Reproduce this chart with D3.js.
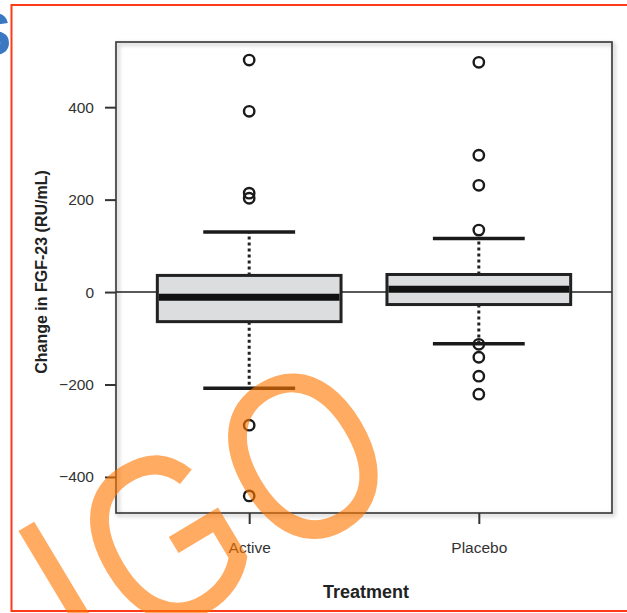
<!DOCTYPE html>
<html>
<head>
<meta charset="utf-8">
<script src="https://cdn.jsdelivr.net/npm/d3@7"></script>
<style>
  html, body { margin: 0; padding: 0; background: #fff; }
  svg { display: block; font-family: "Liberation Sans", Arial, Helvetica, sans-serif; }
</style>
</head>
<body>
<svg id="chart" width="627" height="613"></svg>
<script>
// box statistics per treatment (RU/mL)
const groups = ["Active", "Placebo"];
const whiskerLo = [-208, -112];
const q1 = [-64, -27];
const median = [-11, 6];
const q3 = [36, 38];
const whiskerHi = [130, 116];
const outliers = [
  [502, 391, 214, 203, -288, -441],
  [497, 296, 231, 134, -113, -141, -182, -221]
];
const yTicks = [-400, -200, 0, 200, 400];

const frame = { left: 116, right: 612, top: 42, bottom: 513 };

const svg = d3.select("#chart");

const x = d3.scaleLinear()
  .domain([0.42, 2.58])
  .range([frame.left, frame.right]);

const y = d3.scaleLinear()
  .domain([-478, 541])
  .range([frame.bottom, frame.top]);

// soft shadow on the plot frame
const defs = svg.append("defs");
const f = defs.append("filter").attr("id", "shadow")
  .attr("x", "-5%").attr("y", "-5%").attr("width", "110%").attr("height", "110%");
f.append("feDropShadow")
  .attr("dx", 2).attr("dy", 2).attr("stdDeviation", 2)
  .attr("flood-color", "#000").attr("flood-opacity", 0.35);

// slide residue: blue title letter cut by the left edge
svg.append("text")
  .attr("x", -30).attr("y", 55)
  .attr("font-size", 62)
  .attr("font-weight", "bold")
  .attr("fill", "#3a78c2")
  .text("S");

// red slide border
svg.append("rect")
  .attr("x", 11.5).attr("y", 5)
  .attr("width", 640).attr("height", 606)
  .attr("fill", "none")
  .attr("stroke", "#ff3a1a")
  .attr("stroke-width", 2);

// zero reference line
svg.append("line")
  .attr("x1", frame.left).attr("x2", frame.right)
  .attr("y1", y(0)).attr("y2", y(0))
  .attr("stroke", "#222")
  .attr("stroke-width", 1.6);

const boxW = 0.8;
const g = svg.selectAll("g.box")
  .data(groups)
  .enter().append("g")
  .attr("class", "box");

// dotted whiskers
g.append("line")
  .attr("x1", (d, i) => x(i + 1)).attr("x2", (d, i) => x(i + 1))
  .attr("y1", (d, i) => y(q3[i])).attr("y2", (d, i) => y(whiskerHi[i]))
  .attr("stroke", "#222").attr("stroke-width", 3)
  .attr("stroke-dasharray", "3,3");
g.append("line")
  .attr("x1", (d, i) => x(i + 1)).attr("x2", (d, i) => x(i + 1))
  .attr("y1", (d, i) => y(q1[i])).attr("y2", (d, i) => y(whiskerLo[i]))
  .attr("stroke", "#222").attr("stroke-width", 3)
  .attr("stroke-dasharray", "3,3");

// staples
[whiskerHi, whiskerLo].forEach(arr => {
  g.append("line")
    .attr("x1", (d, i) => x(i + 1 - boxW / 4)).attr("x2", (d, i) => x(i + 1 + boxW / 4))
    .attr("y1", (d, i) => y(arr[i])).attr("y2", (d, i) => y(arr[i]))
    .attr("stroke", "#1a1a1a").attr("stroke-width", 3.5);
});

// boxes
g.append("rect")
  .attr("x", (d, i) => x(i + 1 - boxW / 2))
  .attr("width", x(1 + boxW / 2) - x(1 - boxW / 2))
  .attr("y", (d, i) => y(q3[i]))
  .attr("height", (d, i) => y(q1[i]) - y(q3[i]))
  .attr("fill", "#dcdddf")
  .attr("stroke", "#222")
  .attr("stroke-width", 3);

// medians
g.append("line")
  .attr("x1", (d, i) => x(i + 1 - boxW / 2) + 1.5).attr("x2", (d, i) => x(i + 1 + boxW / 2) - 1.5)
  .attr("y1", (d, i) => y(median[i])).attr("y2", (d, i) => y(median[i]))
  .attr("stroke", "#111").attr("stroke-width", 7);

// outliers
g.each(function (d, i) {
  d3.select(this).selectAll("circle")
    .data(outliers[i])
    .enter().append("circle")
    .attr("cx", x(i + 1))
    .attr("cy", v => y(v))
    .attr("r", 5.2)
    .attr("fill", "none")
    .attr("stroke", "#1a1a1a")
    .attr("stroke-width", 2.4);
});

// frame
svg.append("rect")
  .attr("x", frame.left).attr("y", frame.top)
  .attr("width", frame.right - frame.left)
  .attr("height", frame.bottom - frame.top)
  .attr("fill", "none")
  .attr("stroke", "#333")
  .attr("stroke-width", 1.6)
  .attr("filter", "url(#shadow)");

// axes
const yAxis = svg.append("g")
  .attr("transform", `translate(${frame.left},0)`)
  .call(d3.axisLeft(y).tickValues(yTicks).tickSize(11).tickPadding(11));
const xAxis = svg.append("g")
  .attr("transform", `translate(0,${frame.bottom})`)
  .call(d3.axisBottom(x).tickValues([1, 2]).tickFormat((d) => groups[d - 1]).tickSize(11).tickPadding(18));

[yAxis, xAxis].forEach(ax => {
  ax.select(".domain").remove();
  ax.selectAll(".tick line").attr("stroke", "#333").attr("stroke-width", 2);
  ax.selectAll(".tick text")
    .attr("fill", "#333")
    .style("font-size", "15.5px")
    .style("font-family", "'Liberation Sans', Arial, sans-serif");
});

// axis titles
svg.append("text")
  .attr("transform", "translate(47,272) rotate(-90)")
  .attr("text-anchor", "middle")
  .attr("font-weight", "bold")
  .attr("font-size", 16)
  .attr("fill", "#222")
  .text("Change in FGF-23 (RU/mL)");

svg.append("text")
  .attr("x", 366).attr("y", 598)
  .attr("text-anchor", "middle")
  .attr("font-weight", "bold")
  .attr("font-size", 18)
  .attr("fill", "#222")
  .text("Treatment");

// orange watermark laid over the chart
svg.append("text")
  .attr("transform", "translate(88,682) rotate(-31) scale(0.82,1)")
  .attr("font-size", 240)
  .attr("letter-spacing", 10)
  .attr("fill", "#ff7800")
  .attr("fill-opacity", 0.62)
  .text("IGO");
</script>
</body>
</html>
